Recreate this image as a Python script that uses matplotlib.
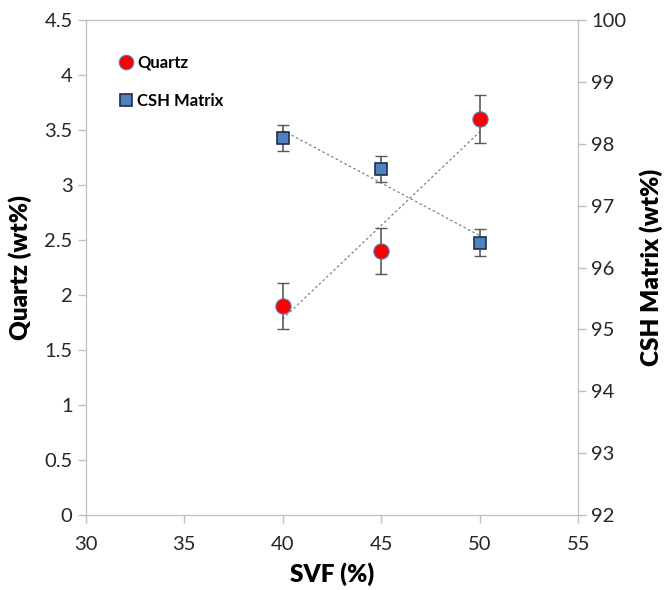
import numpy as np
import matplotlib.pyplot as plt

plt.rcParams['font.family'] = ['Lato', 'DejaVu Sans']

# data
svf = [40, 45, 50]
quartz = [1.9, 2.4, 3.6]
quartz_err = [0.21, 0.21, 0.22]
csh = [98.1, 97.6, 96.4]
csh_err = [0.21, 0.21, 0.22]

grey = '#BFBFBF'

fig = plt.figure(figsize=(6.7, 5.9), dpi=100)
ax = fig.add_axes([0.128, 0.127, 0.735, 0.839])
ax2 = ax.twinx()

# linear trendlines
p1 = np.polyfit(svf, quartz, 1)
p2 = np.polyfit(svf, csh, 1)
xs = np.array([svf[0], svf[-1]])
ax.plot(xs, np.polyval(p1, xs), ls=(0, (2, 2)), color='#808080', lw=0.9, zorder=1)
ax2.plot(xs, np.polyval(p2, xs), ls=(0, (2, 2)), color='#808080', lw=0.9, zorder=1)

ax.errorbar(svf, quartz, yerr=quartz_err, fmt='none', ecolor='#595959',
            elinewidth=1.2, capsize=4, capthick=1, zorder=2)
q, = ax.plot(svf, quartz, 'o', ms=11, mfc='#FF0000', mec='#4F81BD', mew=0.8,
             ls='none', zorder=3, label='Quartz')

ax2.errorbar(svf, csh, yerr=csh_err, fmt='none', ecolor='#595959',
             elinewidth=1.2, capsize=4, capthick=1, zorder=2)
c, = ax2.plot(svf, csh, 's', ms=8.5, mfc='#4F81BD', mec='#1F2F4F', mew=1.2,
              ls='none', zorder=3, label='CSH Matrix')

ax.set_xlim(30, 55)
ax.set_ylim(0, 4.5)
ax2.set_ylim(92, 100)
ax.set_xticks(np.arange(30, 56, 5))
ax.set_yticks(np.arange(0, 4.6, 0.5))
ax.set_yticklabels(['0', '0.5', '1', '1.5', '2', '2.5', '3', '3.5', '4', '4.5'])
ax2.set_yticks(np.arange(92, 101, 1))

for a in (ax, ax2):
    for s in a.spines.values():
        s.set_color(grey)
    a.tick_params(colors=grey, labelcolor='#262626', labelsize=14.5, length=6, width=1)
ax.tick_params(axis='x', pad=9)

ax.set_xlabel('SVF (%)', fontsize=17.5, fontweight='heavy', labelpad=7)
ax.set_ylabel('Quartz (wt%)', fontsize=17.5, fontweight='heavy', labelpad=9)
ax2.set_ylabel('CSH Matrix (wt%)', fontsize=17.5, fontweight='heavy', labelpad=9)

leg = ax2.legend(handles=[q, c], loc='upper left', bbox_to_anchor=(0.03, 0.96),
                 frameon=False, handletextpad=0.1, labelspacing=1.3,
                 prop={'weight': 'bold', 'size': 12}, handlelength=1.2,
                 markerscale=0.95)

fig.savefig('out.png', dpi=100)
